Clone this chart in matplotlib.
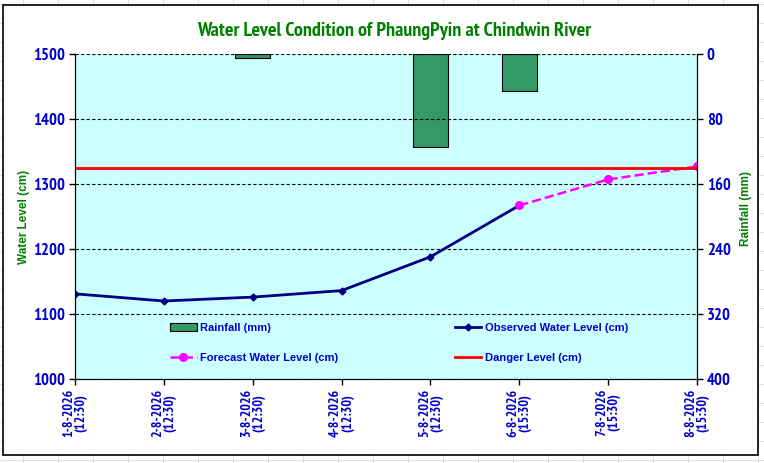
import matplotlib
matplotlib.use("Agg")
import matplotlib.pyplot as plt
from matplotlib.patches import Rectangle

# data
dates = ["1-8-2026\n(12:30)", "2-8-2026\n(12:30)", "3-8-2026\n(12:30)", "4-8-2026\n(12:30)",
         "5-8-2026\n(12:30)", "6-8-2026\n(15:30)", "7-8-2026\n(15:30)", "8-8-2026\n(15:30)"]
rainfall = [0, 0, 5, 0, 115, 45, 0, 0]
observed = [1131, 1120, 1126, 1136, 1188, 1267]
forecast = [1267, 1307, 1327]
danger = [1325] * 8

BLUE = "#0000cc"
GREEN = "#008000"
BAR = "#339966"
NARROW = ["Liberation Sans Narrow", "PT Sans Narrow", "DejaVu Sans"]

fig = plt.figure(figsize=(7.64, 4.63), dpi=100)
fig.patch.set_facecolor("white")

# faint spreadsheet grid behind the chart
for gx in range(23, 764, 35):
    fig.add_artist(plt.Line2D([gx / 764, gx / 764], [0, 1], color="#d9d9d9", lw=0.6, zorder=-5))
for gy in range(4, 463, 19):
    fig.add_artist(plt.Line2D([0, 1], [1 - gy / 463, 1 - gy / 463], color="#d9d9d9", lw=0.6, zorder=-5))
fig.add_artist(Rectangle((3 / 764, 1 - 455 / 463), 755 / 764, 450 / 463, transform=fig.transFigure,
                         facecolor="white", edgecolor="black", lw=1.2, zorder=-4))

ax1 = fig.add_axes([75 / 764, 1 - 379 / 463, 622 / 764, 325 / 463])
ax2 = ax1.twinx()
ax1.set_zorder(ax2.get_zorder() + 1)
ax1.patch.set_visible(False)
ax2.patch.set_visible(True)
ax2.patch.set_facecolor("#ccffff")

x = list(range(len(dates)))

# rainfall bars hang from the top (inverted right axis)
ax2.bar(x, rainfall, width=0.4, color=BAR, edgecolor="black",
        linewidth=[0.8 if r > 0 else 0 for r in rainfall])
ax2.set_ylim(400, 0)
ax2.set_yticks([0, 80, 160, 240, 320, 400])

ax1.plot(x[:len(observed)], observed, "-D", color="#000080", lw=2, ms=3.5, label="Observed Water Level (cm)")
ax1.plot(x[len(observed) - 1:], forecast, "--o", color="#ff00ff", lw=1.8, ms=5.5, label="Forecast Water Level (cm)")
ax1.plot(x, danger, "-", color="#ff0000", lw=2, label="Danger Level (cm)")

ax1.set_xlim(0, len(dates) - 1)
ax1.set_ylim(1000, 1500)
ax1.set_yticks(range(1000, 1501, 100))
ax1.grid(axis="y", color="black", ls=(0, (3, 2)), lw=0.8)
ax1.set_xticks(x)
ax1.set_xticklabels(dates, rotation=90, fontsize=10, fontweight="bold", color=BLUE,
                    family=NARROW, linespacing=0.9)

for ax in (ax1, ax2):
    ax.tick_params(direction="out", length=4, width=1, colors="black", pad=3)
    for lab in ax.get_yticklabels():
        lab.set_color(BLUE)
        lab.set_fontweight("bold")
        lab.set_fontsize(12)
        lab.set_family(NARROW)
    ax.spines["top"].set_visible(False)
for lab in ax1.get_xticklabels():
    lab.set_color(BLUE)

ax1.set_ylabel("Water Level (cm)", color=GREEN, fontsize=8.5, fontweight="bold", family="Liberation Sans")
ax2.set_ylabel("Rainfall (mm)", color=GREEN, fontsize=8.5, fontweight="bold", family="Liberation Sans")
ax1.yaxis.set_label_coords(-45 / 622, 0.5)
ax2.yaxis.set_label_coords(1 + 43 / 622, 0.525)

fig.text(394 / 764, 1 - 31 / 463, "Water Level Condition of PhaungPyin at Chindwin River", ha="center", va="center",
         fontsize=14.5, fontweight="bold", color=GREEN, family=NARROW)

# legend: two rows, two columns, no frame
h1, l1 = ax1.get_legend_handles_labels()
rain_handle = Rectangle((0, 0), 1, 1, facecolor=BAR, edgecolor="black", lw=0.8)
handles = [rain_handle, h1[1], h1[0], h1[2]]
labels = ["Rainfall (mm)", l1[1], l1[0], l1[2]]
leg = ax1.legend(handles, labels, ncol=2, frameon=False, loc="center left",
                 bbox_to_anchor=(85 / 622, 0.111), prop=dict(family="Liberation Sans", size=8, weight="bold"),
                 handlelength=2.4, handletextpad=0.3, columnspacing=10.5, labelspacing=1.8)
for t in leg.get_texts():
    t.set_color(BLUE)

fig.savefig("out.png", dpi=100)
